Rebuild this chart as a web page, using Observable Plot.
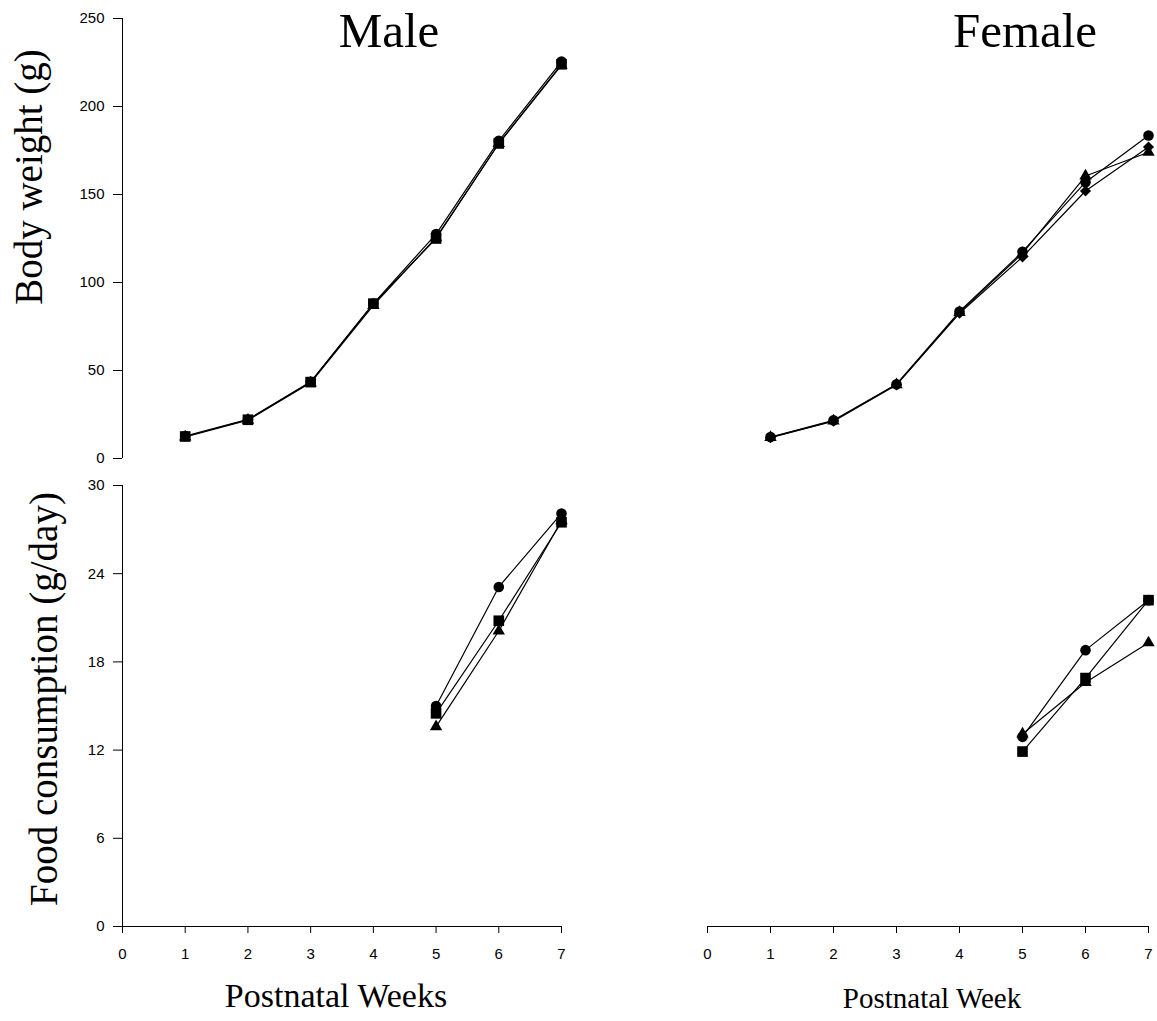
<!DOCTYPE html>
<html><head><meta charset="utf-8">
<script src="https://cdn.jsdelivr.net/npm/d3@7"></script>
<script src="https://cdn.jsdelivr.net/npm/@observablehq/plot@0.6"></script>
<style>
body{margin:0;background:#fff;}
#wrap{position:relative;width:1157px;height:1021px;overflow:hidden;background:#fff;}
#wrap > svg{position:absolute;margin:0;overflow:visible;}
</style></head><body><div id="wrap"></div>
<script>
// ---- data ----
const bwWeeks = [1, 2, 3, 4, 5, 6, 7];
const fcWeeks = [5, 6, 7];

// Male body weight (g)
const maleBW_circle   = [12.8, 22.2, 43.6, 88.0, 127.5, 180.5, 225.5];
const maleBW_square   = [12.5, 22.0, 43.4, 88.0, 125.0, 179.0, 224.0];
const maleBW_triangle = [12.3, 21.8, 43.0, 87.0, 125.5, 179.0, 223.5];

// Female body weight (g)
const femBW_circle    = [12.2, 21.7, 42.2, 83.5, 117.5, 157.0, 183.5];
const femBW_triangle  = [12.0, 21.4, 42.0, 83.0, 116.5, 160.5, 174.0];
const femBW_diamond   = [11.8, 21.2, 41.8, 82.5, 114.5, 152.0, 177.0];

// Male food consumption (g/day)
const maleFC_circle   = [15.0, 23.1, 28.1];
const maleFC_square   = [14.5, 20.8, 27.5];
const maleFC_triangle = [13.6, 20.1, 27.6];

// Female food consumption (g/day)
const femFC_circle    = [12.9, 18.8, 22.2];
const femFC_square    = [11.9, 16.9, 22.2];
const femFC_triangle  = [13.1, 16.6, 19.3];

const bwTicks = [0, 50, 100, 150, 200, 250];
const fcTicks = [0, 6, 12, 18, 24, 30];
const xTicks  = [0, 1, 2, 3, 4, 5, 6, 7];

// ---- helpers ----
const symDef = {
  triangle: {symbol: "triangle", r: 4.6},
  diamond:  {symbol: "diamond2", r: 5.0},
  circle:   {symbol: "circle",   r: 5.3},
  square:   {symbol: "square",   r: 6.0}
};
const drawOrder = ["triangle", "diamond", "circle", "square"];

function rows(weeks, values, sym) {
  return weeks.map((w, i) => ({week: w, value: values[i], sym}));
}

const wrap = document.getElementById("wrap");

function panel(o) {
  const marks = [];
  if (o.showY) marks.push(Plot.ruleX([0], {y1: o.ydomain[0], y2: o.ydomain[1], stroke: "#000", strokeWidth: 1}));
  if (o.showX) marks.push(Plot.ruleY([0], {x1: 0, x2: 7, stroke: "#000", strokeWidth: 1}));
  for (const s of o.series) {
    marks.push(Plot.line(rows(o.weeks, s.values, s.sym), {x: "week", y: "value", stroke: "#000", strokeWidth: 1.2}));
  }
  for (const name of drawOrder) {
    for (const s of o.series.filter(d => d.sym === name)) {
      marks.push(Plot.dot(rows(o.weeks, s.values, s.sym), {
        x: "week", y: "value", symbol: symDef[name].symbol, r: symDef[name].r, fill: "#000", stroke: "none"
      }));
    }
  }
  const chart = Plot.plot({
    width: o.width, height: o.height,
    marginLeft: o.ml, marginRight: o.mr, marginTop: o.mt, marginBottom: o.mb,
    style: {fontFamily: "'Liberation Sans', Arial, sans-serif", fontSize: "15px", background: "transparent", color: "#000"},
    x: {domain: [0, 7], ticks: xTicks, tickFormat: d => String(d), tickSize: 7, tickPadding: 15, label: null, axis: o.showX ? "bottom" : null},
    y: {domain: o.ydomain, ticks: o.yticks, tickFormat: d => String(d), tickSize: 9, tickPadding: 9, label: null, axis: o.showY ? "left" : null},
    marks
  });
  chart.querySelectorAll("g[aria-label*='axis'], g[aria-label*='axis'] text").forEach(el => {
    el.setAttribute("font-size", "15");
    el.style.fontSize = "15px";
  });
  chart.style.left = o.left + "px";
  chart.style.top = o.top + "px";
  chart.style.maxWidth = "none";
  wrap.appendChild(chart);
}

// Top-left: Male body weight
panel({left: 0, top: 0, width: 580, height: 470, ml: 122, mr: 19, mt: 18, mb: 12,
  weeks: bwWeeks, ydomain: [0, 250], yticks: bwTicks, showY: true, showX: false,
  series: [{sym: "triangle", values: maleBW_triangle}, {sym: "square", values: maleBW_square}, {sym: "circle", values: maleBW_circle}]});

// Top-right: Female body weight
panel({left: 580, top: 0, width: 577, height: 470, ml: 127, mr: 9, mt: 18, mb: 12,
  weeks: bwWeeks, ydomain: [0, 250], yticks: bwTicks, showY: false, showX: false,
  series: [{sym: "triangle", values: femBW_triangle}, {sym: "diamond", values: femBW_diamond}, {sym: "circle", values: femBW_circle}]});

// Bottom-left: Male food consumption
panel({left: 0, top: 470, width: 580, height: 551, ml: 122, mr: 19, mt: 15, mb: 95,
  weeks: fcWeeks, ydomain: [0, 30], yticks: fcTicks, showY: true, showX: true,
  series: [{sym: "triangle", values: maleFC_triangle}, {sym: "square", values: maleFC_square}, {sym: "circle", values: maleFC_circle}]});

// Bottom-right: Female food consumption
panel({left: 580, top: 470, width: 577, height: 551, ml: 127, mr: 9, mt: 15, mb: 95,
  weeks: fcWeeks, ydomain: [0, 30], yticks: fcTicks, showY: false, showX: true,
  series: [{sym: "triangle", values: femFC_triangle}, {sym: "square", values: femFC_square}, {sym: "circle", values: femFC_circle}]});

// ---- text overlay ----
const svg = d3.select(wrap).append("svg")
  .attr("width", 1157).attr("height", 1021)
  .style("left", "0px").style("top", "0px").style("pointer-events", "none");
const serif = "'Liberation Serif', 'Times New Roman', serif";
function label(txt, x, y, size, rot) {
  svg.append("text").text(txt)
    .attr("transform", `translate(${x},${y})` + (rot ? ` rotate(${rot})` : ""))
    .attr("text-anchor", "middle").attr("dominant-baseline", "central")
    .attr("font-family", serif).attr("font-size", size).attr("fill", "#000");
}
label("Male", 389, 30, 49);
label("Female", 1025, 30, 49);
label("Body weight (g)", 28, 177, 39, -90);
label("Food consumption (g/day)", 43, 699, 39, -90);
label("Postnatal Weeks", 336, 995, 34);
label("Postnatal Week", 932, 998, 29);
</script></body></html>
